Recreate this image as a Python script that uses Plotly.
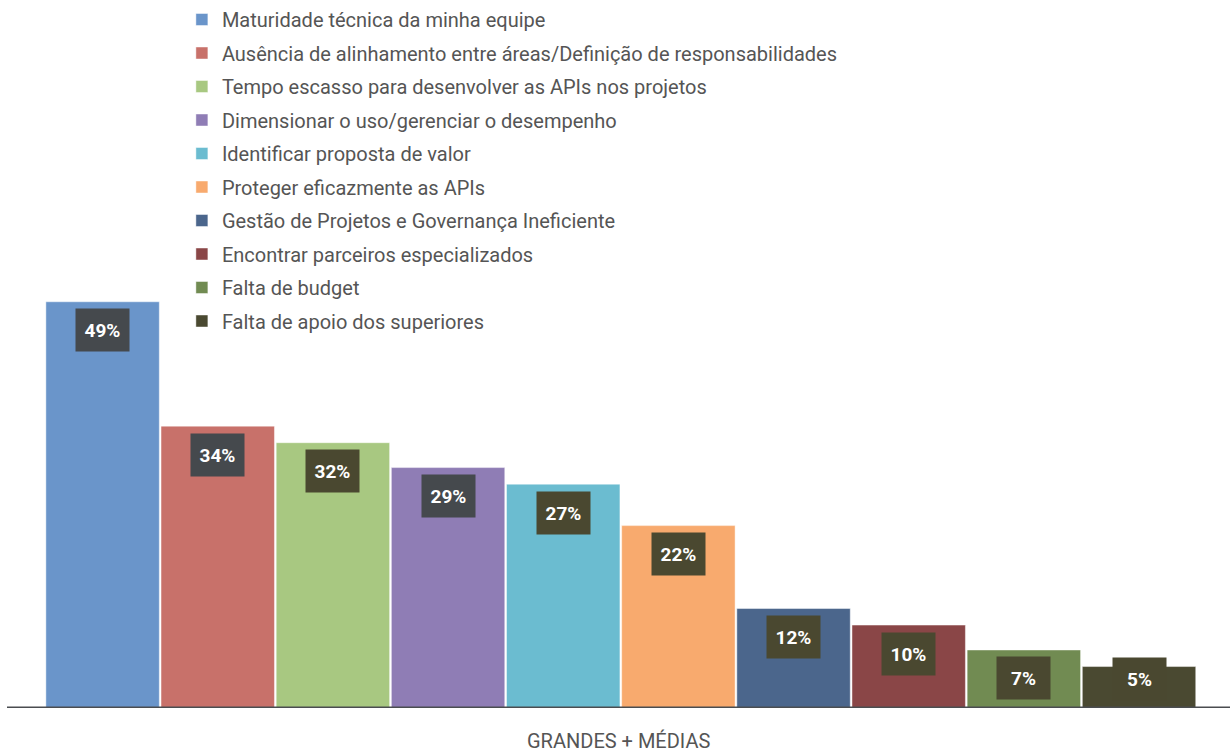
"""Desafios na adoção de APIs - grandes + médias empresas."""
import plotly.graph_objects as go

CATEGORIES = [
    "Maturidade técnica da minha equipe",
    "Ausência de alinhamento entre áreas/Definição de responsabilidades",
    "Tempo escasso para desenvolver as APIs nos projetos",
    "Dimensionar o uso/gerenciar o desempenho",
    "Identificar proposta de valor",
    "Proteger eficazmente as APIs",
    "Gestão de Projetos e Governança Ineficiente",
    "Encontrar parceiros especializados",
    "Falta de budget",
    "Falta de apoio dos superiores",
]
VALUES = [49, 34, 32, 29, 27, 22, 12, 10, 7, 5]
X_LABEL = "GRANDES + MÉDIAS"

# palette
BAR_COLORS = ["#6a95ca", "#c8716a", "#a8c881", "#8f7db5", "#6bbcd0",
              "#f8aa6e", "#4b668c", "#8a4647", "#718b52", "#4a4931"]
GRAY_BOX = "#45494d"
OLIVE_BOX = "#4a4830"
BOX_COLORS = [GRAY_BOX, GRAY_BOX, OLIVE_BOX, GRAY_BOX, OLIVE_BOX,
              OLIVE_BOX, OLIVE_BOX, OLIVE_BOX, OLIVE_BOX, OLIVE_BOX]
TEXT = "#555555"
AXIS = "#4a4d50"
FONT = "Roboto"

Y_MAX = 85.4
PX_PER_UNIT = 708 / Y_MAX

fig = go.Figure()
for i, (cat, val) in enumerate(zip(CATEGORIES, VALUES)):
    fig.add_trace(go.Bar(
        x=[i], y=[val], name=cat, legendgroup=cat,
        marker=dict(color=BAR_COLORS[i], line=dict(color="rgba(255,255,255,0.45)", width=1)),
        width=0.985, hoverinfo="skip"))

# value boxes, sitting just below the bar top (kept above the baseline)
for i, val in enumerate(VALUES):
    y = max(val - 28.5 / PX_PER_UNIT, 29 / PX_PER_UNIT)
    fig.add_annotation(
        x=i, y=y, text=f"<b>{val}%</b>", showarrow=False,
        bgcolor=BOX_COLORS[i], width=53, height=42, borderpad=0,
        font=dict(family=FONT, size=19, color="white"))

# category caption under the baseline
fig.add_annotation(
    x=0.5, y=0, xref="paper", yref="paper", yanchor="middle", yshift=-33,
    text=X_LABEL, showarrow=False,
    font=dict(family=FONT, size=20, color=TEXT))

fig.update_layout(
    width=1230, height=753,
    paper_bgcolor="white", plot_bgcolor="white",
    margin=dict(l=7, r=0, t=0, b=45),
    font=dict(family=FONT, size=20, color=TEXT),
    barmode="overlay",
    showlegend=True,
    legend=dict(x=0.143, y=1.0, xanchor="left", yanchor="top",
                traceorder="grouped", tracegroupgap=4.5,
                font=dict(family=FONT, size=20, color=TEXT),
                bgcolor="rgba(0,0,0,0)", itemclick=False),
    xaxis=dict(range=[-0.83, 9.79], showticklabels=False, showgrid=False,
               zeroline=False, showline=False, ticks=""),
    yaxis=dict(range=[0, Y_MAX], visible=False),
    shapes=[dict(type="line", xref="paper", yref="y", x0=0, x1=1, y0=0, y1=0,
                 line=dict(color=AXIS, width=3))],
)

# drop the page's default body margin so the figure sits at the window origin
fig.write_html("out.html", config={"displayModeBar": False},
               post_script="document.body.style.margin='0';")
